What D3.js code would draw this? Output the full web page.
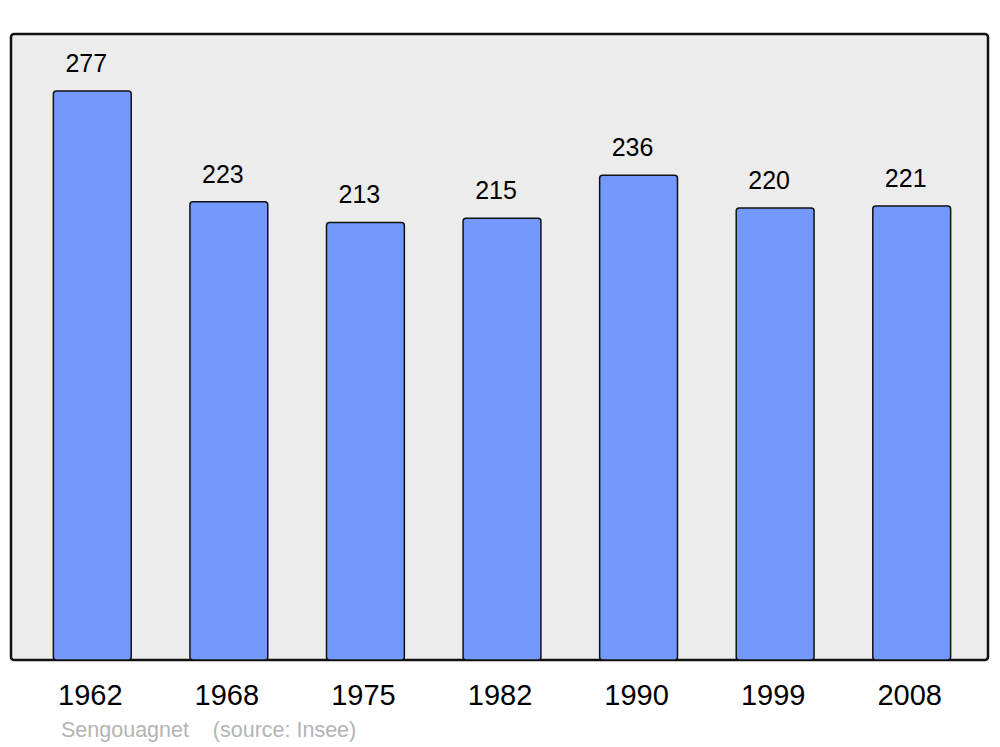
<!DOCTYPE html>
<html>
<head>
<meta charset="utf-8">
<script src="https://cdn.jsdelivr.net/npm/d3@7"></script>
<style>
  body { margin: 0; background: #fff; }
  text { font-family: "Liberation Sans", Arial, sans-serif; }
</style>
</head>
<body>
<div id="chart"></div>
<script>
var years = ["1962", "1968", "1975", "1982", "1990", "1999", "2008"];
var population = [277, 223, 213, 215, 236, 220, 221];
var commune = "Sengouagnet";
var source = "(source: Insee)";

var width = 1000, height = 747;
var frame = {left: 11, top: 34, right: 988, bottom: 660};

var svg = d3.select("#chart").append("svg")
    .attr("width", width)
    .attr("height", height);

// panel
svg.append("rect")
    .attr("x", frame.left)
    .attr("y", frame.top)
    .attr("width", frame.right - frame.left)
    .attr("height", frame.bottom - frame.top)
    .attr("rx", 3)
    .attr("fill", "#ececec")
    .attr("stroke", "#111")
    .attr("stroke-width", 2.5);

var x = d3.scaleBand()
    .domain(years)
    .range([24, 980])
    .paddingInner(0.43)
    .paddingOuter(0.215);

var y = d3.scaleLinear()
    .domain([0, d3.max(population) * 1.1])
    .range([frame.bottom, frame.top]);

var bars = svg.append("g").attr("class", "bars");

bars.selectAll("rect")
    .data(population)
  .enter().append("rect")
    .attr("x", function(d, i) { return x(years[i]); })
    .attr("y", function(d) { return y(d); })
    .attr("width", x.bandwidth())
    .attr("height", function(d) { return frame.bottom - y(d); })
    .attr("rx", 3)
    .attr("fill", "#7399ff")
    .attr("stroke", "#111")
    .attr("stroke-width", 1.5);

// value labels
svg.append("g").selectAll("text")
    .data(population)
  .enter().append("text")
    .attr("x", function(d, i) { return x(years[i]) + x.bandwidth() / 2 - 6; })
    .attr("y", function(d) { return y(d) - 19; })
    .attr("text-anchor", "middle")
    .attr("font-size", 25)
    .attr("fill", "#000")
    .text(function(d) { return d; });

// year axis labels
var xAxis = d3.axisBottom(x).tickSize(0).tickPadding(0);
var ax = svg.append("g")
    .attr("transform", "translate(-2," + frame.bottom + ")")
    .call(xAxis);
ax.select(".domain").remove();
ax.selectAll("text")
    .attr("dy", null)
    .attr("y", 45)
    .attr("font-size", 29)
    .attr("font-family", "Liberation Sans, Arial, sans-serif")
    .attr("fill", "#000");

// footer
svg.append("text")
    .attr("x", 61)
    .attr("y", 737)
    .attr("font-size", 21.5)
    .attr("fill", "#b4b4b4")
    .attr("xml:space", "preserve")
    .style("white-space", "pre")
    .text(commune + "    " + source);
</script>
</body>
</html>
